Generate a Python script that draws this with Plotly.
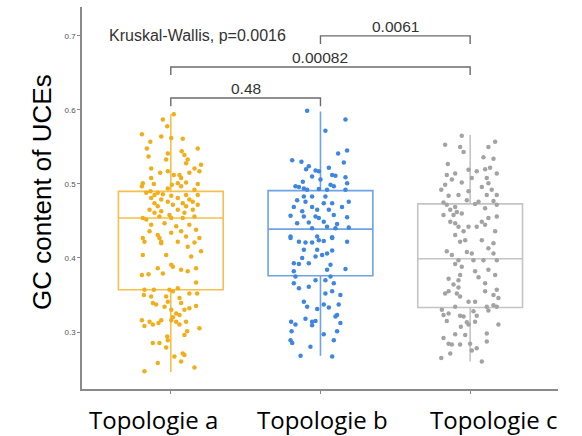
import plotly.graph_objects as go

categories = ["Topologie a", "Topologie b", "Topologie c"]
cat_pos = [1, 2, 3]

# box statistics
q1 = [0.357, 0.376, 0.333]
median = [0.454, 0.439, 0.399]
q3 = [0.490, 0.491, 0.473]
lower = [0.246, 0.268, 0.260]
upper = [0.594, 0.598, 0.566]

# jittered points: (GC content, horizontal jitter)
points_a = [
    (0.594, 0.020), (0.587, -0.053), (0.578, -0.024), (0.567, -0.193), (0.564, -0.064),
    (0.562, 0.003), (0.561, 0.080), (0.557, -0.137), (0.548, 0.180), (0.548, -0.160),
    (0.541, -0.020), (0.544, 0.073), (0.539, 0.091), (0.537, -0.149), (0.533, -0.031),
    (0.533, 0.113), (0.528, 0.102), (0.526, 0.202), (0.521, -0.131), (0.521, 0.158),
    (0.517, 0.191), (0.515, -0.071), (0.517, -0.020), (0.512, 0.058), (0.515, 0.124),
    (0.512, 0.020), (0.508, -0.131), (0.508, 0.069), (0.501, -0.187), (0.500, -0.113),
    (0.499, 0.007), (0.501, 0.047), (0.502, 0.102), (0.500, 0.180), (0.497, -0.193),
    (0.490, -0.136), (0.488, -0.087), (0.494, -0.020), (0.497, 0.069), (0.492, 0.158),
    (0.488, -0.164), (0.485, -0.109), (0.486, -0.053), (0.484, 0.003), (0.485, 0.102),
    (0.485, 0.180), (0.481, -0.131), (0.479, -0.064), (0.481, 0.047), (0.479, 0.124),
    (0.476, 0.147), (0.474, -0.109), (0.476, -0.020), (0.474, 0.080), (0.470, -0.087),
    (0.472, 0.014), (0.470, 0.102), (0.472, 0.180), (0.465, -0.142), (0.463, -0.064),
    (0.465, 0.047), (0.465, 0.147), (0.461, -0.109), (0.458, -0.009), (0.461, 0.091),
    (0.454, -0.187), (0.452, -0.164), (0.456, -0.076), (0.454, 0.003), (0.454, 0.080),
    (0.456, 0.158), (0.445, -0.131), (0.447, -0.042), (0.443, 0.036), (0.445, 0.124),
    (0.436, -0.142), (0.431, -0.087), (0.434, 0.003), (0.436, 0.069), (0.438, 0.169),
    (0.427, -0.187), (0.427, -0.076), (0.429, 0.102), (0.427, 0.191), (0.422, -0.064),
    (0.422, 0.047), (0.422, -0.176), (0.420, -0.064), (0.415, 0.113), (0.421, 0.158),
    (0.404, -0.187), (0.404, -0.031), (0.402, 0.136), (0.409, 0.202), (0.386, -0.087),
    (0.391, 0.003), (0.388, 0.014), (0.379, -0.053), (0.377, -0.193), (0.378, -0.149),
    (0.384, 0.069), (0.382, 0.113), (0.386, 0.169), (0.367, 0.169), (0.357, -0.176),
    (0.357, -0.113), (0.357, -0.009), (0.355, 0.014), (0.359, 0.047), (0.352, 0.124),
    (0.352, 0.176), (0.350, -0.180), (0.348, -0.131), (0.348, -0.031), (0.346, 0.058),
    (0.339, -0.120), (0.337, -0.098), (0.339, 0.069), (0.341, -0.020), (0.335, 0.169),
    (0.334, -0.042), (0.330, 0.003), (0.330, 0.091), (0.332, 0.124), (0.325, 0.036),
    (0.323, 0.058), (0.320, 0.014), (0.316, -0.193), (0.314, -0.142), (0.316, -0.064),
    (0.316, 0.003), (0.314, 0.036), (0.314, 0.102), (0.308, -0.176), (0.310, -0.120),
    (0.312, -0.082), (0.310, 0.058), (0.305, 0.191), (0.301, 0.109), (0.296, 0.091),
    (0.294, -0.024), (0.289, -0.020), (0.285, -0.120), (0.285, -0.076), (0.279, -0.031),
    (0.267, 0.024), (0.269, 0.091), (0.271, 0.080), (0.258, -0.087), (0.260, 0.069),
    (0.252, 0.158), (0.247, -0.176),
]

points_b = [
    (0.599, -0.089), (0.587, 0.167), (0.572, 0.033), (0.545, 0.178), (0.541, 0.118),
    (0.529, 0.156), (0.532, -0.189), (0.530, -0.127), (0.524, -0.078), (0.520, -0.096),
    (0.518, -0.033), (0.517, -0.011), (0.522, 0.056), (0.512, 0.078), (0.511, 0.100),
    (0.510, -0.056), (0.509, 0.167), (0.506, 0.000), (0.503, -0.118), (0.497, -0.167),
    (0.496, -0.144), (0.494, -0.111), (0.499, 0.067), (0.497, 0.089), (0.501, 0.178),
    (0.492, -0.089), (0.493, -0.011), (0.492, 0.044), (0.492, 0.167), (0.483, -0.111),
    (0.483, -0.056), (0.483, 0.033), (0.478, -0.156), (0.476, 0.189), (0.476, -0.100),
    (0.474, 0.022), (0.474, 0.078), (0.469, -0.178), (0.469, -0.056), (0.469, 0.144),
    (0.463, -0.122), (0.465, -0.022), (0.465, 0.056), (0.457, -0.200), (0.456, -0.033),
    (0.458, 0.089), (0.456, -0.111), (0.454, -0.011), (0.455, 0.178), (0.447, -0.156),
    (0.448, -0.078), (0.449, 0.022), (0.446, 0.111), (0.440, -0.056), (0.442, 0.044),
    (0.440, 0.100), (0.441, 0.189), (0.429, -0.200), (0.429, -0.022), (0.428, 0.078),
    (0.427, -0.200), (0.422, -0.144), (0.421, -0.100), (0.421, -0.056), (0.424, -0.011),
    (0.423, 0.022), (0.427, 0.078), (0.422, 0.178), (0.411, -0.111), (0.411, -0.022),
    (0.410, 0.078), (0.406, 0.044), (0.400, -0.122), (0.402, -0.033), (0.404, 0.011),
    (0.393, -0.078), (0.393, -0.178), (0.392, -0.144), (0.391, 0.067), (0.385, 0.167),
    (0.384, 0.044), (0.382, -0.178), (0.375, -0.167), (0.375, 0.067), (0.370, -0.033),
    (0.370, 0.033), (0.366, -0.178), (0.359, -0.144), (0.361, -0.078), (0.366, 0.089),
    (0.352, 0.033), (0.355, 0.078), (0.350, 0.133), (0.341, -0.111), (0.334, -0.089),
    (0.331, -0.022), (0.337, 0.022), (0.333, 0.056), (0.337, 0.122), (0.323, 0.111),
    (0.321, 0.100), (0.318, -0.100), (0.314, -0.056), (0.315, -0.033), (0.314, -0.196),
    (0.310, -0.167), (0.309, -0.056), (0.312, 0.133), (0.301, -0.193), (0.301, 0.111),
    (0.289, -0.200), (0.285, -0.189), (0.297, 0.022), (0.289, 0.089), (0.280, -0.067),
    (0.268, -0.133), (0.267, 0.078),
]

points_c = [
    (0.565, -0.056), (0.553, -0.167), (0.550, -0.067), (0.557, 0.167), (0.550, 0.122),
    (0.543, -0.044), (0.536, 0.089), (0.534, 0.156), (0.527, -0.149), (0.522, 0.133),
    (0.519, -0.011), (0.517, 0.044), (0.520, 0.100), (0.512, -0.156), (0.514, -0.100),
    (0.514, 0.178), (0.508, 0.011), (0.508, 0.111), (0.506, -0.122), (0.502, -0.056),
    (0.501, 0.122), (0.499, -0.167), (0.496, 0.078), (0.492, -0.193), (0.490, -0.011),
    (0.492, 0.144), (0.484, -0.144), (0.485, -0.078), (0.485, 0.111), (0.485, 0.178),
    (0.475, -0.178), (0.478, -0.022), (0.476, 0.056), (0.477, 0.156), (0.472, -0.156),
    (0.469, -0.100), (0.473, 0.033), (0.472, 0.178), (0.465, -0.133), (0.462, -0.089),
    (0.467, 0.100), (0.458, -0.178), (0.458, -0.111), (0.460, -0.056), (0.456, 0.178),
    (0.449, -0.133), (0.447, -0.100), (0.449, 0.078), (0.454, 0.122), (0.442, -0.078),
    (0.442, -0.011), (0.442, 0.044), (0.445, 0.100), (0.436, 0.167), (0.436, -0.044),
    (0.431, -0.100), (0.422, -0.067), (0.424, -0.033), (0.424, 0.078), (0.420, 0.156),
    (0.409, -0.156), (0.404, -0.122), (0.408, -0.022), (0.406, 0.011), (0.413, 0.122),
    (0.406, 0.156), (0.397, -0.078), (0.397, 0.022), (0.397, 0.089), (0.397, 0.178),
    (0.392, -0.100), (0.388, -0.056), (0.384, 0.122), (0.382, 0.033), (0.377, 0.167),
    (0.377, -0.067), (0.374, 0.056), (0.372, -0.144), (0.370, -0.078), (0.366, 0.100),
    (0.364, -0.111), (0.360, -0.078), (0.357, 0.178), (0.352, -0.167), (0.352, -0.089),
    (0.355, 0.100), (0.355, -0.144), (0.348, -0.067), (0.350, 0.156), (0.346, 0.189),
    (0.341, -0.011), (0.341, 0.033), (0.334, -0.100), (0.334, 0.111), (0.336, 0.156),
    (0.330, -0.189), (0.325, -0.144), (0.322, -0.067), (0.328, 0.022), (0.329, 0.122),
    (0.334, 0.178), (0.323, -0.178), (0.321, -0.044), (0.322, 0.044), (0.315, -0.156),
    (0.313, -0.022), (0.314, 0.033), (0.310, -0.011), (0.307, -0.062), (0.310, 0.189),
    (0.298, 0.111), (0.297, -0.100), (0.296, -0.033), (0.284, -0.144), (0.283, -0.122),
    (0.283, -0.067), (0.284, 0.000), (0.287, 0.111), (0.292, -0.178), (0.275, 0.011),
    (0.278, 0.044), (0.271, -0.133), (0.265, -0.193), (0.260, 0.078),
]

# pairwise comparisons: (group i, group j, bracket height, p-value label)
comparisons = [(0, 1, 0.616, "0.48"), (0, 2, 0.658, "0.00082"), (1, 2, 0.700, "0.0061")]
kruskal_label = "Kruskal-Wallis, p=0.0016"
y_title = "GC content of UCEs"
y_ticks = [0.3, 0.4, 0.5, 0.6, 0.7]

colors = ["#F2AD1A", "#3E86E0", "#A3A3A3"]
box_colors = ["#F4C04E", "#6FA2E6", "#C4C4C4"]
all_points = [points_a, points_b, points_c]

fig = go.Figure()

for i in range(3):
    fig.add_trace(go.Box(
        x=[cat_pos[i]], q1=[q1[i]], median=[median[i]], q3=[q3[i]],
        lowerfence=[lower[i]], upperfence=[upper[i]],
        width=0.7, whiskerwidth=0, boxpoints=False,
        line=dict(color=box_colors[i], width=1.6),
        fillcolor="rgba(255,255,255,0)", showlegend=False, hoverinfo="skip",
    ))

for i in range(3):
    pts = all_points[i]
    fig.add_trace(go.Scatter(
        x=[cat_pos[i] + p[1] for p in pts], y=[p[0] for p in pts],
        mode="markers", marker=dict(color=colors[i], size=4.5, line=dict(width=0)),
        showlegend=False,
    ))

tick_depth = 0.011
for gi, gj, h, lab in comparisons:
    x0, x1 = cat_pos[gi], cat_pos[gj]
    fig.add_trace(go.Scatter(
        x=[x0, x0, x1, x1], y=[h - tick_depth, h, h, h - tick_depth],
        mode="lines", line=dict(color="#6b6b6b", width=1.4),
        showlegend=False, hoverinfo="skip",
    ))
    fig.add_annotation(x=(x0 + x1) / 2, y=h + 0.013, text=lab, showarrow=False,
                       xanchor="center", yanchor="middle",
                       font=dict(family="Liberation Sans, Arial", size=15.5, color="#333333"))

fig.add_annotation(x=0.573, y=0.7007, text=kruskal_label, showarrow=False,
                   xanchor="left", yanchor="middle",
                   font=dict(family="Liberation Sans, Arial", size=16, color="#333333"))

label_shift = [-17, 2.5, 23.5]
for i, c in enumerate(categories):
    fig.add_annotation(x=cat_pos[i], xref="x", y=0, yref="paper", text=c, showarrow=False,
                       xanchor="center", yanchor="top", xshift=label_shift[i], yshift=-12,
                       font=dict(family="Open Sans", size=24, color="#000000"))

fig.add_annotation(x=0, xref="paper", y=0.516, yref="paper", text=y_title, showarrow=False,
                   textangle=-90, xanchor="center", yanchor="middle", xshift=-40,
                   font=dict(family="Liberation Sans, Arial", size=26, color="#000000"))

fig.update_layout(
    width=582, height=436,
    margin=dict(l=82, r=24, t=7, b=47),
    paper_bgcolor="white", plot_bgcolor="white",
    boxmode="overlay",
    xaxis=dict(range=[0.4067, 3.587], tickvals=cat_pos, ticktext=categories,
               showticklabels=False, showgrid=False, zeroline=False,
               showline=True, linecolor="#8a8a8a", linewidth=1.6,
               ticks="outside", ticklen=3, tickcolor="#8a8a8a", tickwidth=1),
    yaxis=dict(range=[0.223, 0.739], tickvals=y_ticks, ticktext=[str(v) for v in y_ticks],
               showgrid=False, zeroline=False,
               showline=True, linecolor="#8a8a8a", linewidth=1.6,
               ticks="outside", ticklen=3, tickcolor="#8a8a8a", tickwidth=1,
               tickfont=dict(family="Liberation Sans, Arial", size=8, color="#555555")),
)

fig.write_html("out.html", config={"displayModeBar": False},
               post_script="document.body.style.margin='0';")
